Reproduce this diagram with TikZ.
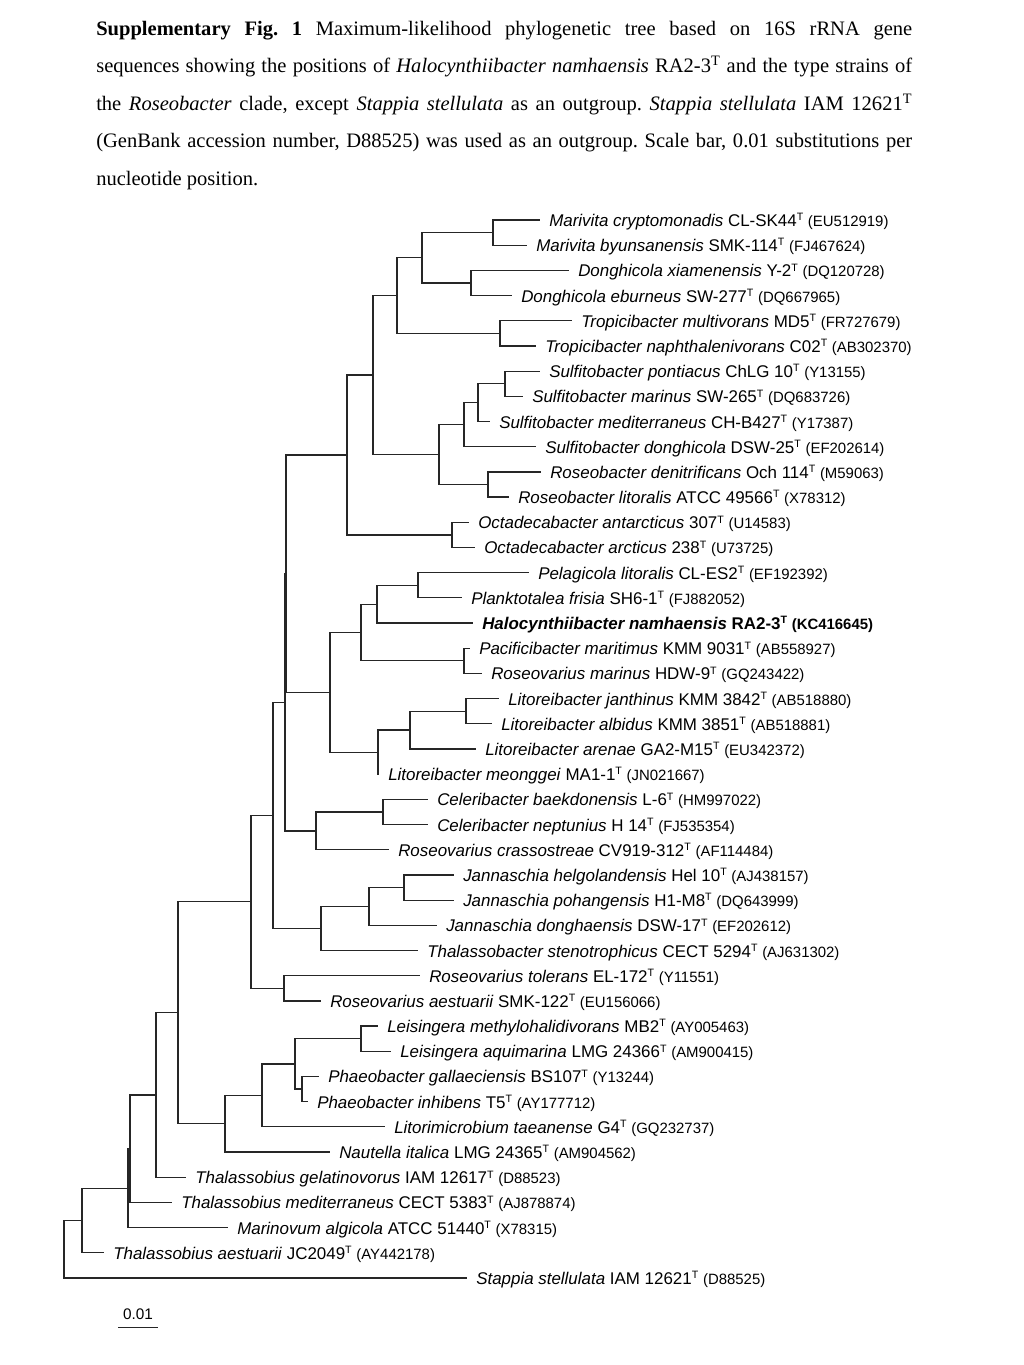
\documentclass[tikz,border=0pt]{standalone}
\usepackage{fontspec}
\setmainfont{Liberation Serif}
\newfontfamily\lab{Liberation Sans}
\frenchspacing
\newcommand\Tsup{\raisebox{4.3pt}{\fontsize{8pt}{8pt}\selectfont T}}
\newcommand\accf{\fontsize{11.2pt}{13pt}\selectfont}
\newcommand\taxa[3]{\textit{#1} #2\Tsup\ {\accf(#3)}}
\newcommand\tleaf[4]{\coordinate (#1) at (#2,{220+25.19*#3}); \node[lbl] (#1t) at ([shift={(9,6.5)}]#1) {#4};}
\newcommand\treenode[5]{\coordinate (#1) at (#2,{220+25.19*#3}); \draw[br] (#1) |- (#4); \draw[br] (#1) |- (#5);}
\tikzset{
  br/.style={line width=0.95pt, draw=black!85},
  lbl/.style={font=\lab\fontsize{12.7pt}{15pt}\selectfont, inner sep=0pt, anchor=base west},
  capline/.style={font=\fontsize{15.4pt}{18pt}\selectfont\frenchspacing, inner sep=0pt, anchor=base west}
}
\begin{document}
\begin{tikzpicture}[x=0.75pt,y=-0.75pt]
\useasboundingbox (0,0) rectangle (1024,1365);
% caption
\node[capline] (c1) at (96,35) {\makebox[612pt][s]{\textbf{Supplementary Fig. 1} Maximum-likelihood phylogenetic tree based on 16S rRNA gene}};
\node[capline] (c2) at (96,72.6) {\makebox[612pt][s]{sequences showing the positions of \textit{Halocynthiibacter namhaensis} RA2-3\textsuperscript{T} and the type strains of}};
\node[capline] (c3) at (96,110.2) {\makebox[612pt][s]{the \textit{Roseobacter} clade, except \textit{Stappia stellulata} as an outgroup. \textit{Stappia stellulata} IAM 12621\textsuperscript{T}}};
\node[capline] (c4) at (96,147.8) {\makebox[612pt][s]{(GenBank accession number, D88525) was used as an outgroup. Scale bar, 0.01 substitutions per}};
\node[capline] (c5) at (96,185.4) {nucleotide position.};
% leaves
\tleaf{l0}{540}{0}{\taxa{Marivita cryptomonadis}{CL-SK44}{EU512919}}
\tleaf{l1}{527}{1}{\taxa{Marivita byunsanensis}{SMK-114}{FJ467624}}
\tleaf{l2}{569}{2}{\taxa{Donghicola xiamenensis}{Y-2}{DQ120728}}
\tleaf{l3}{512}{3}{\taxa{Donghicola eburneus}{SW-277}{DQ667965}}
\tleaf{l4}{572}{4}{\taxa{Tropicibacter multivorans}{MD5}{FR727679}}
\tleaf{l5}{536}{5}{\taxa{Tropicibacter naphthalenivorans}{C02}{AB302370}}
\tleaf{l6}{540}{6}{\taxa{Sulfitobacter pontiacus}{ChLG 10}{Y13155}}
\tleaf{l7}{523}{7}{\taxa{Sulfitobacter marinus}{SW-265}{DQ683726}}
\tleaf{l8}{490}{8}{\taxa{Sulfitobacter mediterraneus}{CH-B427}{Y17387}}
\tleaf{l9}{536}{9}{\taxa{Sulfitobacter donghicola}{DSW-25}{EF202614}}
\tleaf{l10}{541}{10}{\taxa{Roseobacter denitrificans}{Och 114}{M59063}}
\tleaf{l11}{509}{11}{\taxa{Roseobacter litoralis}{ATCC 49566}{X78312}}
\tleaf{l12}{469}{12}{\taxa{Octadecabacter antarcticus}{307}{U14583}}
\tleaf{l13}{475}{13}{\taxa{Octadecabacter arcticus}{238}{U73725}}
\tleaf{l14}{529}{14}{\taxa{Pelagicola litoralis}{CL-ES2}{EF192392}}
\tleaf{l15}{462}{15}{\taxa{Planktotalea frisia}{SH6-1}{FJ882052}}
\tleaf{l16}{473}{16}{\bfseries\taxa{Halocynthiibacter namhaensis}{RA2-3}{KC416645}}
\tleaf{l17}{470}{17}{\taxa{Pacificibacter maritimus}{KMM 9031}{AB558927}}
\tleaf{l18}{482}{18}{\taxa{Roseovarius marinus}{HDW-9}{GQ243422}}
\tleaf{l19}{499}{19}{\taxa{Litoreibacter janthinus}{KMM 3842}{AB518880}}
\tleaf{l20}{492}{20}{\taxa{Litoreibacter albidus}{KMM 3851}{AB518881}}
\tleaf{l21}{476}{21}{\taxa{Litoreibacter arenae}{GA2-M15}{EU342372}}
\tleaf{l22}{379}{22}{\taxa{Litoreibacter meonggei}{MA1-1}{JN021667}}
\tleaf{l23}{428}{23}{\taxa{Celeribacter baekdonensis}{L-6}{HM997022}}
\tleaf{l24}{428}{24}{\taxa{Celeribacter neptunius}{H 14}{FJ535354}}
\tleaf{l25}{389}{25}{\taxa{Roseovarius crassostreae}{CV919-312}{AF114484}}
\tleaf{l26}{454}{26}{\taxa{Jannaschia helgolandensis}{Hel 10}{AJ438157}}
\tleaf{l27}{454}{27}{\taxa{Jannaschia pohangensis}{H1-M8}{DQ643999}}
\tleaf{l28}{437}{28}{\taxa{Jannaschia donghaensis}{DSW-17}{EF202612}}
\tleaf{l29}{418}{29}{\taxa{Thalassobacter stenotrophicus}{CECT 5294}{AJ631302}}
\tleaf{l30}{420}{30}{\taxa{Roseovarius tolerans}{EL-172}{Y11551}}
\tleaf{l31}{321}{31}{\taxa{Roseovarius aestuarii}{SMK-122}{EU156066}}
\tleaf{l32}{378}{32}{\taxa{Leisingera methylohalidivorans}{MB2}{AY005463}}
\tleaf{l33}{391}{33}{\taxa{Leisingera aquimarina}{LMG 24366}{AM900415}}
\tleaf{l34}{319}{34}{\taxa{Phaeobacter gallaeciensis}{BS107}{Y13244}}
\tleaf{l35}{308}{35}{\taxa{Phaeobacter inhibens}{T5}{AY177712}}
\tleaf{l36}{385}{36}{\taxa{Litorimicrobium taeanense}{G4}{GQ232737}}
\tleaf{l37}{330}{37}{\taxa{Nautella italica}{LMG 24365}{AM904562}}
\tleaf{l38}{186}{38}{\taxa{Thalassobius gelatinovorus}{IAM 12617}{D88523}}
\tleaf{l39}{172}{39}{\taxa{Thalassobius mediterraneus}{CECT 5383}{AJ878874}}
\tleaf{l40}{228}{40}{\taxa{Marinovum algicola}{ATCC 51440}{X78315}}
\tleaf{l41}{104}{41}{\taxa{Thalassobius aestuarii}{JC2049}{AY442178}}
\tleaf{l42}{467}{42}{\taxa{Stappia stellulata}{IAM 12621}{D88525}}
% internal nodes
\treenode{nmar}{493}{0.5}{l0}{l1}
\treenode{ndon}{471}{2.5}{l2}{l3}
\treenode{nA}{422}{1.5}{nmar}{ndon}
\treenode{ntro}{500}{4.5}{l4}{l5}
\treenode{nB}{397}{3}{nA}{ntro}
\treenode{nG}{505}{6.5}{l6}{l7}
\treenode{nF}{478}{7.25}{nG}{l8}
\treenode{nE}{464}{8.125}{nF}{l9}
\treenode{nros}{488}{10.5}{l10}{l11}
\treenode{nD}{439}{9.3125}{nE}{nros}
\treenode{nC}{373}{6.15625}{nB}{nD}
\treenode{noct}{452}{12.5}{l12}{l13}
\treenode{nH}{347}{9.328}{nC}{noct}
\treenode{npel}{418}{14.5}{l14}{l15}
\treenode{npa}{377}{15.25}{npel}{l16}
\treenode{npac}{464}{17.5}{l17}{l18}
\treenode{npb}{361}{16.375}{npa}{npac}
\treenode{nlj}{466}{19.5}{l19}{l20}
\treenode{nlb}{410}{20.25}{nlj}{l21}
\treenode{nlc}{378}{21.125}{nlb}{l22}
\treenode{npd}{330}{18.75}{npb}{nlc}
\treenode{nI}{286}{14.039}{nH}{npd}
\treenode{ncel}{383}{23.5}{l23}{l24}
\treenode{ncb}{316}{24.25}{ncel}{l25}
\treenode{nJ}{285}{19.145}{nI}{ncb}
\treenode{njh}{404}{26.5}{l26}{l27}
\treenode{njb}{369}{27.25}{njh}{l28}
\treenode{njc}{321}{28.125}{njb}{l29}
\treenode{nK}{273}{23.635}{nJ}{njc}
\treenode{nrt}{284}{30.5}{l30}{l31}
\treenode{nL}{251}{27.068}{nK}{nrt}
\treenode{nlei}{361}{32.5}{l32}{l33}
\treenode{npha}{302}{34.5}{l34}{l35}
\treenode{nS}{295}{33.5}{nlei}{npha}
\treenode{nR}{262}{34.75}{nS}{l36}
\treenode{nQ}{225}{35.875}{nR}{l37}
\treenode{nM}{178}{31.47}{nL}{nQ}
\treenode{nN}{156}{34.735}{nM}{l38}
\treenode{nOa}{130}{36.868}{nN}{l39}
\treenode{nOb}{128}{38.434}{nOa}{l40}
\treenode{nP}{82}{39.717}{nOb}{l41}
\treenode{root}{64}{40.86}{nP}{l42}
% scale bar
\coordinate (sba) at (118,1327.7);
\coordinate (sbb) at (158,1327.7);
\draw[br] (sba) -- (sbb);
\node[font=\lab\fontsize{11.5pt}{13pt}\selectfont, inner sep=0pt, anchor=base] (sbl) at (138,1319) {0.01};
\end{tikzpicture}
\end{document}
